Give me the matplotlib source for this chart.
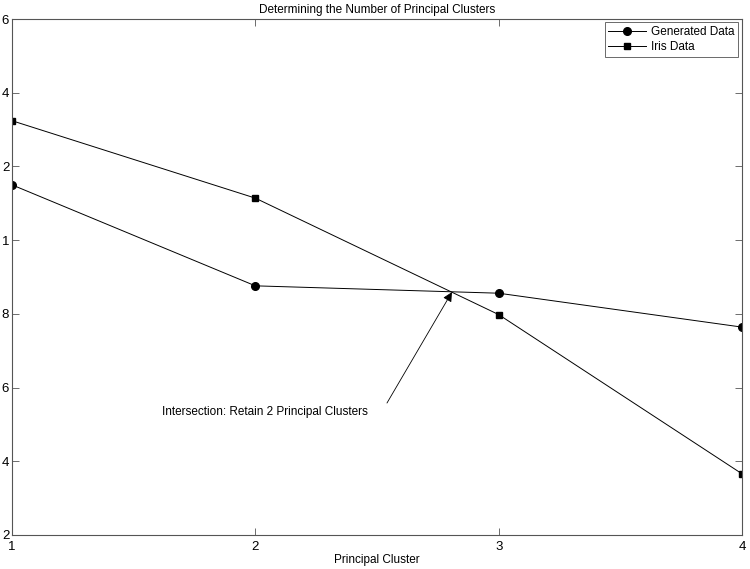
import matplotlib
matplotlib.use("Agg")
import matplotlib.pyplot as plt

plt.rcParams['font.family'] = ['Liberation Sans', 'DejaVu Sans']

clusters = [1, 2, 3, 4]
generated = [0.1150, 0.0876, 0.0856, 0.0764]
iris = [0.1324, 0.1114, 0.0798, 0.0366]
ytick_vals = [0.02, 0.04, 0.06, 0.08, 0.10, 0.12, 0.14, 0.16]
ytick_labels = ["2", "4", "6", "8", "1", "2", "4", "6"]
xtick_labels = ["1", "2", "3", "4"]

fig = plt.figure(figsize=(7.5, 5.69), dpi=100)
ax = fig.add_axes([0.016, 0.0598, 0.9733, 0.9068])

ax.plot(clusters, generated, color='black', lw=0.7, marker='o', ms=5.5, label='Generated Data')
ax.plot(clusters, iris, color='black', lw=0.7, marker='s', ms=4.5, label='Iris Data')

ax.set_xlim(1, 4)
ax.set_ylim(0.02, 0.16)
ax.set_xticks(clusters)
ax.set_xticklabels(xtick_labels)
ax.set_yticks(ytick_vals)
ax.set_yticklabels(ytick_labels)
ax.tick_params(direction='in', length=5, width=0.6, color='#555555', labelsize=9.5,
               top=True, right=True)
ax.tick_params(axis='x', pad=4)
ax.tick_params(axis='y', pad=2)
for sp in ax.spines.values():
    sp.set_color('#555555')
    sp.set_linewidth(0.8)

ax.set_title('Determining the Number of Principal Clusters', fontsize=8.5, pad=4)
ax.set_xlabel('Principal Cluster', fontsize=8.5, labelpad=1)

ax.annotate('', xy=(2.808, 0.0859), xytext=(2.541, 0.0558),
            arrowprops=dict(arrowstyle='-|>', color='black', lw=0.6,
                            mutation_scale=14, shrinkA=0, shrinkB=0))
ax.text(1.616, 0.0534, 'Intersection: Retain 2 Principal Clusters', fontsize=8.5,
        ha='left', va='center')

leg = ax.legend(loc='upper right', fontsize=8.5, fancybox=False, edgecolor='#444444',
                handlelength=3.2, borderaxespad=0, borderpad=0.3, labelspacing=0.3,
                handletextpad=0.4, bbox_to_anchor=(0.9945, 0.994))
leg.get_frame().set_linewidth(0.7)

fig.savefig('out.png', dpi=100)
